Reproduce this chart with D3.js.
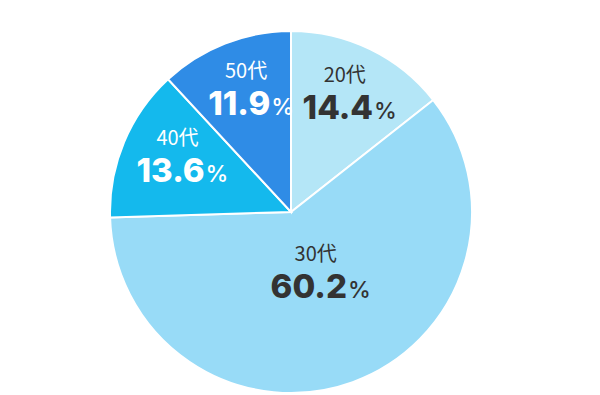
<!DOCTYPE html>
<html>
<head>
<meta charset="utf-8">
<script src="https://cdn.jsdelivr.net/npm/d3@7"></script>
<style>
  body { margin: 0; background: #fff; }
  svg { display: block; }
</style>
</head>
<body>
<div id="chart"></div>
<script>
// data
let ageGroups = ["20代", "30代", "40代", "50代"];
let shares = [14.4, 60.2, 13.6, 11.9];
let sliceColors = ["#b4e6f7", "#98dbf7", "#14b9ed", "#2f8ce6"];
let textColors = ["#333333", "#333333", "#ffffff", "#ffffff"];

let svgWidth = 600;
let svgHeight = 395;
let radius = 181;
let cx = 291;
let cy = 212;

let svg = d3.select("#chart")
  .append("svg")
  .attr("width", svgWidth)
  .attr("height", svgHeight);

let chartGroup = svg.append("g")
  .attr("transform", `translate(${cx}, ${cy})`);

let pie = d3.pie()
  .sort(null)
  .value(d => d);

let arcs = pie(shares);

let arc = d3.arc()
  .innerRadius(0)
  .outerRadius(radius);

// slices
chartGroup.selectAll("path")
  .data(arcs)
  .enter()
  .append("path")
  .attr("d", arc)
  .attr("fill", (d, i) => sliceColors[i])
  .attr("stroke", "#fff")
  .attr("stroke-width", 2);

// label position: big slice labels sit nearer the centre
function labelPoint(d) {
  let frac = (d.endAngle - d.startAngle) > Math.PI ? 0.4 : 0.68;
  let r = radius * frac;
  return d3.arc().innerRadius(r).outerRadius(r).centroid(d);
}

let labels = chartGroup.selectAll(".sliceLabel")
  .data(arcs)
  .enter()
  .append("g")
  .attr("class", "sliceLabel")
  .attr("transform", d => {
    let p = labelPoint(d);
    return `translate(${p[0]}, ${p[1]})`;
  });

labels.append("text")
  .attr("text-anchor", "middle")
  .attr("y", -19)
  .attr("font-family", "'Noto Sans CJK JP', 'Noto Sans', sans-serif")
  .attr("font-size", "20px")
  .attr("fill", (d, i) => textColors[i])
  .text((d, i) => ageGroups[i]);

let numText = labels.append("text")
  .attr("text-anchor", "middle")
  .attr("x", 5)
  .attr("y", 18)
  .attr("fill", (d, i) => textColors[i]);

numText.append("tspan")
  .attr("font-family", "Inter, 'Noto Sans', sans-serif")
  .attr("font-weight", 800)
  .attr("font-size", "33px")
  .text((d, i) => shares[i].toFixed(1));

numText.append("tspan")
  .attr("font-family", "Inter, 'Noto Sans', sans-serif")
  .attr("font-weight", 500)
  .attr("font-size", "23px")
  .attr("dx", 1)
  .text("%");
</script>
</body>
</html>
